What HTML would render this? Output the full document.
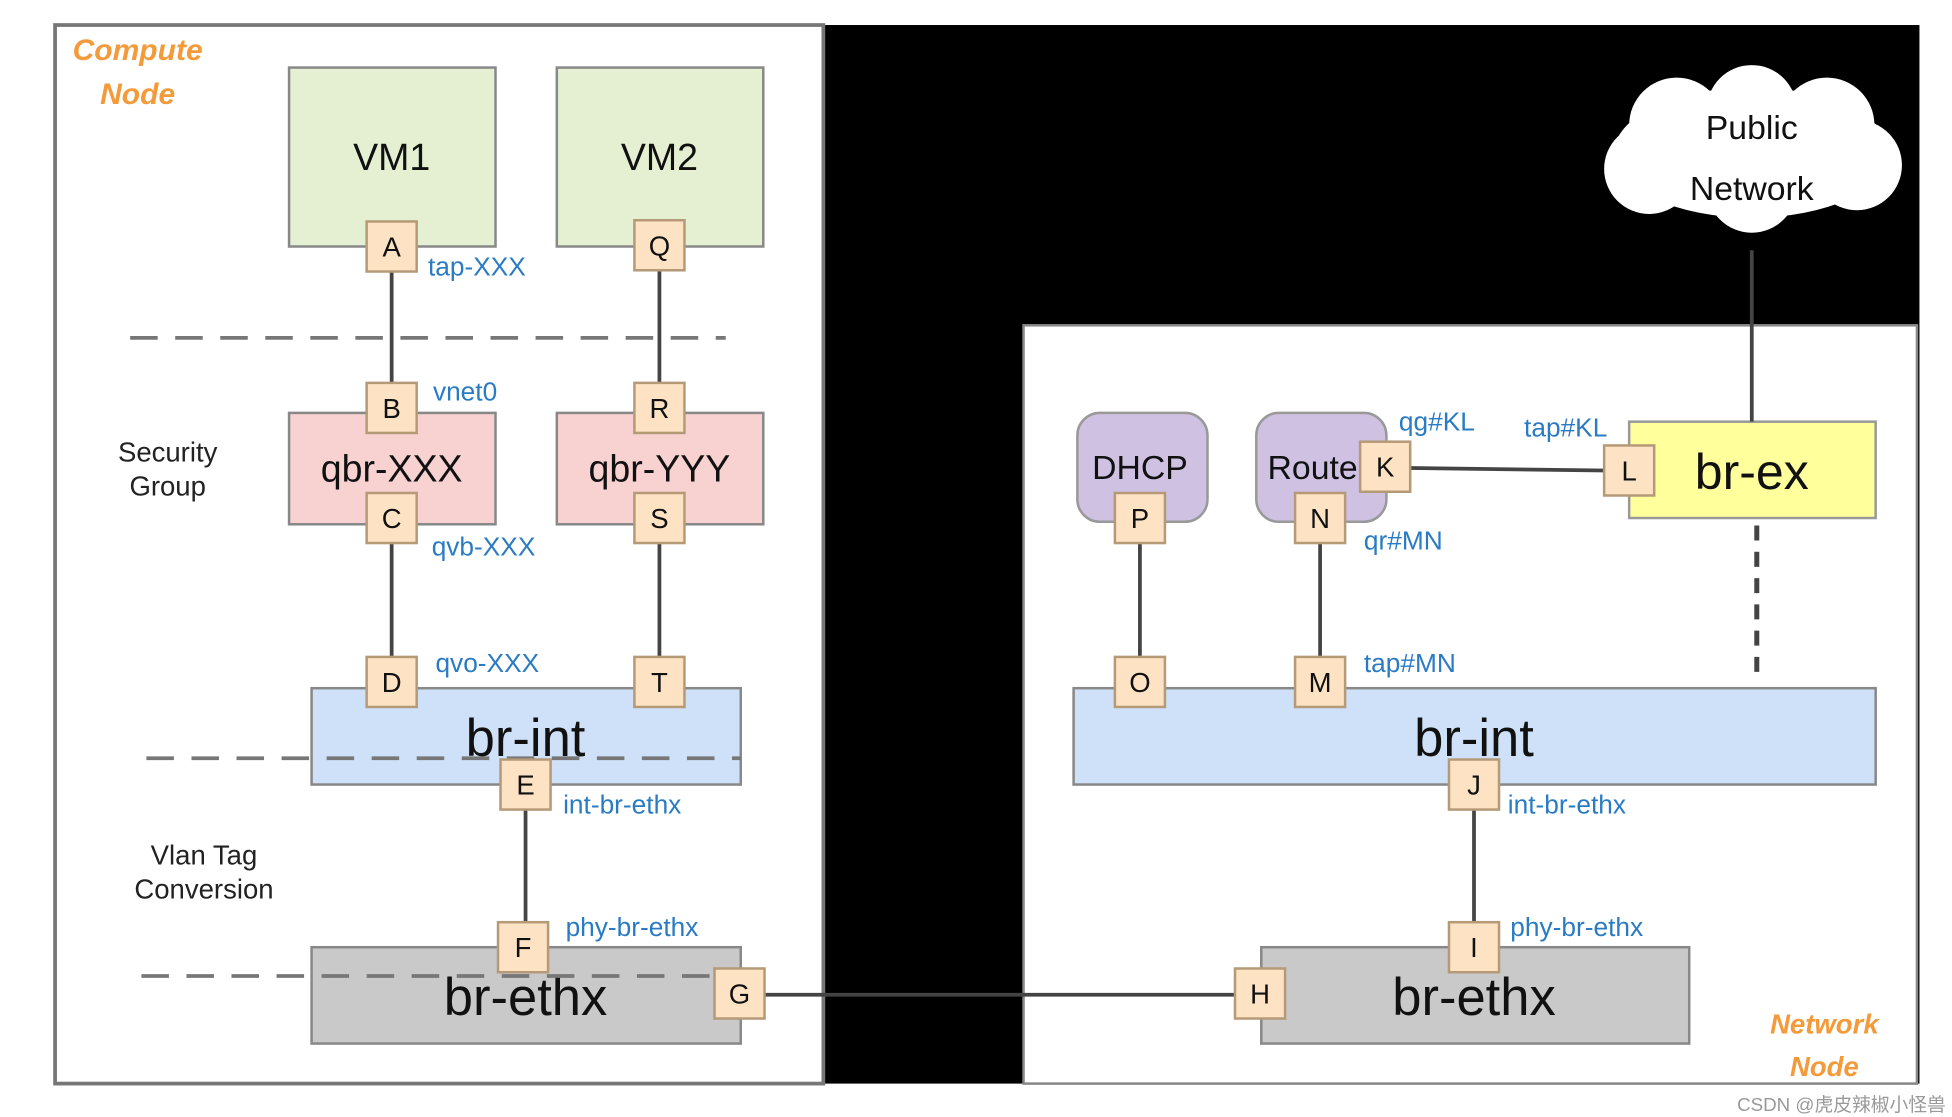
<!DOCTYPE html>
<html><head><meta charset="utf-8"><style>
html,body{margin:0;padding:0;background:#fff;width:1952px;height:1117px;overflow:hidden}
svg{display:block}
text{font-family:"Liberation Sans","Noto Sans CJK SC",sans-serif}
</style></head><body>
<svg width="1952" height="1117" viewBox="0 0 1560 892.7" xmlns="http://www.w3.org/2000/svg">
<defs>
<g id="p"><rect x="-20" y="-20" width="40" height="40" fill="#fde3c4" stroke="#b59a78" stroke-width="2"/></g>
</defs>
<rect x="0" y="0" width="1560" height="893" fill="#fff"/>
<rect x="658" y="20" width="876" height="846" fill="#000"/>
<rect x="44" y="20" width="614" height="846" fill="#fff" stroke="#777" stroke-width="3"/>
<rect x="818" y="260" width="714" height="606" fill="#fff" stroke="#888" stroke-width="2"/>

<g font-style="italic" font-weight="bold" fill="#f39a3a" font-size="24">
<text x="110" y="48" text-anchor="middle">Compute</text>
<text x="110" y="83" text-anchor="middle">Node</text>
<text x="1458" y="826" text-anchor="middle" font-size="22">Network</text>
<text x="1458" y="860" text-anchor="middle" font-size="22">Node</text>
</g>

<rect x="231" y="54" width="165" height="143" fill="#e5f0d3" stroke="#888" stroke-width="2"/>
<rect x="445" y="54" width="165" height="143" fill="#e5f0d3" stroke="#888" stroke-width="2"/>
<text x="313" y="136" font-size="30" text-anchor="middle" fill="#111">VM1</text>
<text x="527" y="136" font-size="30" text-anchor="middle" fill="#111">VM2</text>
<rect x="231" y="330" width="165" height="89" fill="#f8d1d1" stroke="#888" stroke-width="2"/>
<rect x="445" y="330" width="165" height="89" fill="#f8d1d1" stroke="#888" stroke-width="2"/>
<text x="313" y="385" font-size="30" text-anchor="middle" fill="#111">qbr-XXX</text>
<text x="527" y="385" font-size="30" text-anchor="middle" fill="#111">qbr-YYY</text>
<rect x="249" y="550" width="343" height="77" fill="#cfe1f8" stroke="#888" stroke-width="2"/>
<rect x="249" y="757" width="343" height="77" fill="#c9c9c9" stroke="#888" stroke-width="2"/>
<text x="420" y="604" font-size="42" text-anchor="middle" fill="#111">br-int</text>
<text x="420" y="811" font-size="42" text-anchor="middle" fill="#111">br-ethx</text>

<g stroke="#777" stroke-width="3" stroke-dasharray="22,14" fill="none">
<line x1="104" y1="270" x2="580" y2="270"/>
<line x1="117" y1="606" x2="592" y2="606"/>
<line x1="113" y1="780" x2="590" y2="780"/>
</g>

<g font-size="22" fill="#222" text-anchor="middle">
<text x="134" y="369">Security</text>
<text x="134" y="396">Group</text>
<text x="163" y="691">Vlan Tag</text>
<text x="163" y="718">Conversion</text>
</g>

<rect x="861" y="330" width="104" height="87" rx="18" fill="#cfc1e2" stroke="#999" stroke-width="2"/>
<rect x="1004" y="330" width="104" height="87" rx="18" fill="#cfc1e2" stroke="#999" stroke-width="2"/>
<text x="911" y="383" font-size="27" text-anchor="middle" fill="#111">DHCP</text>
<text x="1049" y="383" font-size="27" text-anchor="middle" fill="#111">Route</text>
<rect x="1302" y="337" width="197" height="77" fill="#ffff9c" stroke="#999" stroke-width="2"/>
<text x="1400" y="391" font-size="40" text-anchor="middle" fill="#111">br-ex</text>
<rect x="858" y="550" width="641" height="77" fill="#cfe1f8" stroke="#888" stroke-width="2"/>
<text x="1178" y="604" font-size="42" text-anchor="middle" fill="#111">br-int</text>
<rect x="1008" y="757" width="342" height="77" fill="#c9c9c9" stroke="#888" stroke-width="2"/>
<text x="1178" y="811" font-size="42" text-anchor="middle" fill="#111">br-ethx</text>

<g fill="#fff">
<ellipse cx="1400" cy="122" rx="110" ry="52"/>
<circle cx="1340" cy="100" r="38"/><circle cx="1400" cy="88" r="36"/><circle cx="1460" cy="100" r="38"/>
<circle cx="1318" cy="135" r="36"/><circle cx="1400" cy="150" r="36"/><circle cx="1484" cy="132" r="36"/>
</g>
<text x="1400" y="111" font-size="27" text-anchor="middle" fill="#111">Public</text>
<text x="1400" y="160" font-size="27" text-anchor="middle" fill="#111">Network</text>

<g stroke="#444" stroke-width="3" fill="none">
<line x1="313" y1="217" x2="313" y2="306"/>
<line x1="527" y1="216" x2="527" y2="306"/>
<line x1="313" y1="434" x2="313" y2="525"/>
<line x1="527" y1="434" x2="527" y2="525"/>
<line x1="420" y1="647" x2="420" y2="737"/>
<line x1="611" y1="795" x2="987" y2="795"/>
<line x1="911" y1="434" x2="911" y2="525"/>
<line x1="1055" y1="434" x2="1055" y2="525"/>
<line x1="1127" y1="374" x2="1282" y2="376"/>
<line x1="1400" y1="200" x2="1400" y2="337"/>
<line x1="1178" y1="647" x2="1178" y2="737"/>
</g>
<line x1="1404" y1="420" x2="1404" y2="540" stroke="#444" stroke-width="4" stroke-dasharray="12,9"/>

<g font-size="22" fill="#111" text-anchor="middle">
<use href="#p" x="313" y="197"/><text x="313" y="205">A</text>
<use href="#p" x="527" y="196"/><text x="527" y="204">Q</text>
<use href="#p" x="313" y="326"/><text x="313" y="334">B</text>
<use href="#p" x="527" y="326"/><text x="527" y="334">R</text>
<use href="#p" x="313" y="414"/><text x="313" y="422">C</text>
<use href="#p" x="527" y="414"/><text x="527" y="422">S</text>
<use href="#p" x="313" y="545"/><text x="313" y="553">D</text>
<use href="#p" x="527" y="545"/><text x="527" y="553">T</text>
<use href="#p" x="420" y="627"/><text x="420" y="635">E</text>
<use href="#p" x="418" y="757"/><text x="418" y="765">F</text>
<use href="#p" x="591" y="794"/><text x="591" y="802">G</text>
<use href="#p" x="1007" y="794"/><text x="1007" y="802">H</text>
<use href="#p" x="1178" y="757"/><text x="1178" y="765">I</text>
<use href="#p" x="1178" y="627"/><text x="1178" y="635">J</text>
<use href="#p" x="1107" y="373"/><text x="1107" y="381">K</text>
<use href="#p" x="1302" y="376"/><text x="1302" y="384">L</text>
<use href="#p" x="1055" y="545"/><text x="1055" y="553">M</text>
<use href="#p" x="1055" y="414"/><text x="1055" y="422">N</text>
<use href="#p" x="911" y="545"/><text x="911" y="553">O</text>
<use href="#p" x="911" y="414"/><text x="911" y="422">P</text>
</g>

<g font-size="21" fill="#2a7bc4">
<text x="342" y="220">tap-XXX</text>
<text x="346" y="320">vnet0</text>
<text x="345" y="444">qvb-XXX</text>
<text x="348" y="537">qvo-XXX</text>
<text x="450" y="650">int-br-ethx</text>
<text x="452" y="748">phy-br-ethx</text>
<text x="1118" y="344">qg#KL</text>
<text x="1218" y="349">tap#KL</text>
<text x="1090" y="439">qr#MN</text>
<text x="1090" y="537">tap#MN</text>
<text x="1205" y="650">int-br-ethx</text>
<text x="1207" y="748">phy-br-ethx</text>
</g>

<text x="1555" y="888" font-size="15" fill="#999" text-anchor="end">CSDN @虎皮辣椒小怪兽</text>
</svg>
</body></html>
